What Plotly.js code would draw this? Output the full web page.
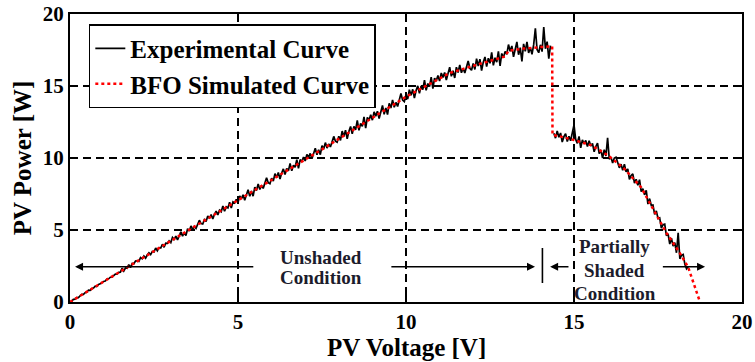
<!DOCTYPE html>
<html>
<head>
<meta charset="utf-8">
<script src="https://cdn.plot.ly/plotly-3.0.1.min.js"></script>
<style>html,body{margin:0;padding:0;background:#fff;}#chart{width:755px;height:362px;}</style>
</head>
<body>
<div id="chart"></div>
<script>
const expX1 = [
  0.00,0.05,0.10,0.15,0.20,0.25,0.30,0.35,0.40,0.45,0.50,0.55,0.60,0.65,0.70,0.75,0.80,0.85,0.90,0.95,
  1.00,1.05,1.10,1.15,1.20,1.25,1.30,1.35,1.40,1.45,
  1.50,1.55,1.60,1.65,1.70,1.75,1.80,1.85,1.90,1.95,
  2.00,2.05,2.10,2.15,2.20,2.25,2.30,2.35,2.40,2.45,2.50,2.55,2.60,2.65,2.70,2.75,2.80,2.85,2.90,2.95,
  3.00,3.05,3.10,3.15,3.20,3.25,3.30,3.35,3.40,3.45,3.50,3.55,3.60,3.65,3.70,3.75,3.80,3.85,3.90,3.95,
  4.00,4.05,4.10,4.15,4.20,4.25,4.30,4.35,4.40,4.45,4.50,4.55,4.60,4.65,4.70,4.75,4.80,4.85,4.90,4.95,
  5.00,5.05,5.10,5.15,5.20,5.25,5.30,5.35,5.40,5.45,5.50,5.55,5.60,5.65,5.70,5.75,5.80,5.85,5.90,5.95,
  6.00,6.05,6.10,6.15,6.20,6.25,6.30,6.35,6.40,6.45,6.50,6.55,6.60,6.65,6.70,6.75,6.80,6.85,6.90,6.95,
  7.00,7.05,7.10,7.15,7.20,7.25,7.30,7.35,7.40,7.45,7.50,7.55,7.60,7.65,7.70,7.75,7.80,7.85,7.90,7.95,
  8.00,8.05,8.10,8.15,8.20,8.25,8.30,8.35,8.40,8.45,8.50,8.55,8.60,8.65,8.70,8.75,8.80,8.85,8.90,8.95,
  9.00,9.05,9.10,9.15,9.20,9.25,9.30,9.35,9.40,9.45,9.50,9.55,9.60,9.65,9.70,9.75,9.80,9.85,9.90,9.95,
  10.00,10.05,10.10,10.15,10.20,10.25,10.30,10.35,10.40,10.45,10.50,10.55,10.60,10.65,10.70,10.75,10.80,10.85,10.90,10.95,
  11.00,11.05,11.10,11.15,11.20,11.25,11.30,11.35,11.40,11.45,11.50,11.55,11.60,11.65,11.70,11.75,11.80,11.85,11.90,11.95,
  12.00,12.05,12.10,12.15,12.20,12.25,12.30,12.35,12.40,12.45,12.50,12.55,12.60,12.65,12.70,12.75,12.80,12.85,12.90,12.95,
  13.00,13.05,13.10,13.15,13.20,13.25,13.30,13.35,13.40,13.45,13.50,13.55,13.60,13.65,13.70,13.75,13.80,13.85,13.90,13.95,
  14.00,14.05,14.10,14.15,14.20,14.25,14.30
];
const expY1 = [
  0.00,0.05,0.18,0.20,0.31,0.31,0.43,0.53,0.53,0.65,0.69,0.83,0.81,0.93,0.97,1.10,1.08,1.22,1.26,1.37,
  1.43,1.46,1.59,1.61,1.72,1.72,1.84,1.94,1.94,2.06,
  2.07,2.34,2.15,2.36,2.34,2.60,2.39,2.68,2.66,2.84,
  2.87,2.82,3.08,3.00,3.19,3.04,3.26,3.42,3.29,3.51,3.48,3.75,3.56,3.77,3.75,4.01,3.80,4.09,4.07,4.25,
  4.13,4.48,4.35,4.57,4.31,4.66,4.88,4.57,4.84,4.61,5.09,4.93,5.28,5.02,5.24,5.11,5.46,5.68,5.45,5.42,
  5.72,5.59,5.98,5.80,6.07,5.77,6.09,6.31,6.05,6.37,6.27,6.67,6.31,6.61,6.53,6.92,6.52,6.96,6.88,7.13,
  6.91,7.37,7.16,7.44,7.06,7.52,7.80,7.34,7.70,7.35,7.98,7.74,8.19,7.81,8.09,7.89,8.34,8.62,8.28,8.21,
  8.60,8.39,8.91,8.64,8.99,8.54,8.96,9.24,8.86,9.28,9.11,9.63,9.11,9.50,9.36,9.89,9.29,9.89,9.75,10.07,
  9.79,10.25,10.04,10.32,9.94,10.40,10.68,10.22,10.58,10.23,10.86,10.62,11.07,10.69,10.97,10.77,11.22,11.50,11.16,11.09,
  11.51,11.22,11.87,11.50,11.93,11.33,11.85,12.19,11.68,12.20,11.96,12.61,11.92,12.40,12.20,12.86,12.07,12.82,12.62,13.01,
  12.63,13.20,12.91,13.25,12.74,13.31,13.65,13.04,13.48,13.01,13.80,13.47,14.03,13.52,13.86,13.58,14.14,14.48,14.02,13.91,
  14.39,14.09,14.74,14.35,14.77,14.16,14.68,15.01,14.49,15.00,14.75,15.40,14.70,15.17,14.96,15.61,14.82,15.55,15.35,15.73,
  15.34,15.90,15.60,15.94,15.41,15.97,16.31,15.67,16.06,15.56,16.31,15.94,16.47,15.92,16.23,15.90,16.43,16.74,16.23,16.09,
  16.56,16.15,16.90,16.39,16.86,16.07,16.66,17.02,16.34,16.93,16.58,17.33,16.43,16.96,16.66,17.41,16.40,17.26,16.97,17.39,
  17.21,17.88,17.41,17.78,17.02,17.69,18.06,17.17,17.66,16.70,17.93,17.40,18.07,17.30,17.67,17.20,17.87,19.00,17.54,17.31,
  17.86,17.39,19.10,17.59,18.08,16.90,17.81
];
// Experimental curve, partially shaded part
const expX2 = [
  14.40,14.45,14.50,14.55,14.60,14.65,14.70,14.75,14.80,14.85,14.90,14.95,15.00,15.05,15.10,15.15,15.20,15.25,15.30,15.35,
  15.40,15.45,15.50,15.55,15.60,15.65,15.70,15.75,15.80,15.85,15.90,15.95,16.00,16.05,16.10,16.15,16.20,16.25,16.30,16.35,
  16.40,16.45,16.50,16.55,16.60,16.65,16.70,16.75,16.80,16.85,16.90,16.95,17.00,17.05,17.10,17.15,17.20,17.25,17.30,17.35,
  17.40,17.45,17.50,17.55,17.60,17.65,17.70,17.75,17.80,17.85,17.90,17.95,18.00,18.05,18.10,18.15,18.20,18.25,18.30,18.35,
  18.40
];
const expY2 = [
  11.72,11.38,11.87,11.44,11.74,11.11,11.48,11.69,11.14,11.51,11.20,11.68,12.30,11.29,11.02,11.50,10.70,11.26,10.98,11.22,
  10.79,11.19,10.83,11.01,10.43,10.80,11.04,10.31,10.56,10.00,10.57,10.14,11.40,9.91,10.06,9.65,10.00,10.06,9.58,9.32,
  9.57,9.15,9.57,9.04,9.24,8.52,8.79,8.90,8.26,8.52,8.10,8.49,7.67,7.86,7.44,7.76,6.80,7.18,6.71,6.74,
  6.09,6.33,5.81,5.85,5.13,5.37,5.41,4.61,4.73,4.02,4.44,3.88,4.12,3.42,4.80,3.00,3.26,3.30,2.62,2.31,
  2.45
];
// BFO simulated curve
const simX = [0, 2, 5, 7.5, 10, 11, 11.3, 12, 12.5, 12.95, 13.05, 13.5, 14, 14.35, 14.36, 14.5, 15, 15.5, 16, 16.5, 17, 17.35, 17.75, 18.15, 18.4, 18.75];
const simY = [0, 2.82, 7.05, 10.6, 14.25, 15.5, 15.9, 16.4, 16.75, 17.05, 17.45, 17.6, 17.7, 17.75, 11.6, 11.55, 11.25, 10.9, 10.2, 9.25, 7.95, 6.5, 4.8, 3.4, 2.4, 0];

const tickVals = [0, 5, 10, 15, 20];
const tickText = ['0', '5', '10', '15', '20'];
const seriesNames = ['Experimental Curve', 'BFO Simulated Curve'];
const xTitle = 'PV Voltage [V]';
const yTitle = 'PV Power [W]';

const FONT = 'Liberation Serif';

const expX = expX1.concat([null], expX2);
const expY = expY1.concat([null], expY2);

const traces = [
  {x: expX, y: expY, type: 'scatter', mode: 'lines', name: seriesNames[0],
   connectgaps: false, line: {color: '#000000', width: 1.7}},
  {x: simX, y: simY, type: 'scatter', mode: 'lines', name: seriesNames[1],
   line: {color: '#ff0000', width: 2.5, dash: 'dot'}}
];

const axisCommon = {
  range: [0, 20], tickvals: tickVals, ticktext: tickText,
  showline: true, linecolor: '#000', linewidth: 2, mirror: 'ticks',
  ticks: 'inside', ticklen: 8, tickwidth: 1.5, tickcolor: '#000',
  showgrid: true, gridcolor: '#000', gridwidth: 2, griddash: '8px,5px',
  zeroline: false, fixedrange: true, automargin: false,
  tickfont: {family: FONT, size: 21, color: '#000', weight: 'bold'}
};

const textColor = '#1c1c2c';
const annFont = {family: FONT, size: 19, color: textColor, weight: 'bold'};
function label(txt, x, y) {
  return {x: x, y: y, xref: 'x', yref: 'y', text: txt, showarrow: false, font: annFont, xanchor: 'center', yanchor: 'middle'};
}
function arrow(xHead, xTail, y) {
  return {x: xHead, y: y, ax: xTail, ay: y, xref: 'x', yref: 'y', axref: 'x', ayref: 'y',
          text: '', showarrow: true, arrowhead: 2, arrowsize: 1, arrowwidth: 1.6, arrowcolor: '#000', standoff: 0, startstandoff: 0};
}

const layout = {
  width: 755, height: 362,
  margin: {l: 70, r: 13, t: 14, b: 60, pad: 0},
  paper_bgcolor: '#fff', plot_bgcolor: '#fff',
  font: {family: FONT, color: '#000'},
  xaxis: axisCommon,
  yaxis: Object.assign({}, axisCommon, {
    title: {text: yTitle, font: {family: FONT, size: 25, color: '#000', weight: 'bold'}, standoff: 4}
  }),
  showlegend: true,
  legend: {x: 0.028, y: 0.965, xanchor: 'left', yanchor: 'top',
           bgcolor: '#fff', bordercolor: '#000', borderwidth: 1.5,
           font: {family: FONT, size: 25, color: '#000', weight: 'bold'},
           tracegroupgap: 0},
  annotations: [
    {text: xTitle, xref: 'paper', yref: 'paper', x: 0.5, y: -0.158, xanchor: 'center', yanchor: 'middle',
     showarrow: false, font: {family: FONT, size: 25, color: '#000', weight: 'bold'}},
    arrow(0.15, 5.5, 2.45),
    arrow(13.84, 9.52, 2.45),
    arrow(14.29, 14.88, 2.45),
    arrow(18.9, 17.6, 2.45),
    label('Unshaded', 7.46, 3.12),
    label('Condition', 7.46, 1.67),
    label('Partially', 16.22, 3.82),
    label('Shaded', 16.22, 2.22),
    label('Condition', 16.22, 0.62)
  ],
  shapes: [
    {type: 'line', xref: 'x', yref: 'y', x0: 14.06, x1: 14.06, y0: 1.32, y1: 3.75,
     line: {color: '#000', width: 1.6}}
  ]
};

Plotly.newPlot('chart', traces, layout, {displayModeBar: false, staticPlot: true});
</script>
</body>
</html>
